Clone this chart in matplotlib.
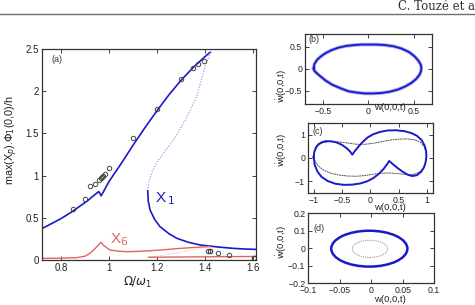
import matplotlib
matplotlib.use("Agg")
import matplotlib.pyplot as plt
from matplotlib.patches import Ellipse

plt.rcParams['font.family'] = ['Liberation Sans', 'DejaVu Sans']
plt.rcParams['mathtext.fontset'] = 'dejavusans'

# ---- panel (a) data ----
x1_up_x = [0.72, 0.76, 0.80, 0.845, 0.88, 0.91, 0.935, 0.950, 0.957, 0.962, 0.967, 0.975, 1.00, 1.05, 1.10, 1.15, 1.20, 1.25, 1.30, 1.35, 1.38, 1.40, 1.415, 1.422]
x1_up_y = [0.37, 0.43, 0.49, 0.57, 0.64, 0.70, 0.76, 0.795, 0.81, 0.79, 0.76, 0.80, 0.93, 1.14, 1.36, 1.57, 1.77, 1.96, 2.13, 2.28, 2.36, 2.41, 2.45, 2.46]
x1_uns_x = [1.422, 1.40, 1.365, 1.32, 1.268, 1.23, 1.198, 1.18, 1.164, 1.161]
x1_uns_y = [2.46, 2.30, 1.94, 1.67, 1.42, 1.28, 1.15, 1.05, 0.91, 0.83]
x1_lo_x = [1.161, 1.163, 1.171, 1.19, 1.212, 1.25, 1.282, 1.33, 1.379, 1.45, 1.517, 1.56, 1.61]
x1_lo_y = [0.82, 0.70, 0.59, 0.48, 0.395, 0.31, 0.257, 0.21, 0.178, 0.155, 0.138, 0.131, 0.126]

x6_x = [0.72, 0.80, 0.866, 0.90, 0.921, 0.940, 0.955, 0.967, 0.975, 0.984, 1.004, 1.04, 1.074, 1.12, 1.171, 1.23, 1.296, 1.36, 1.42]
x6_y = [0.02, 0.022, 0.028, 0.045, 0.08, 0.13, 0.175, 0.21, 0.18, 0.158, 0.118, 0.105, 0.099, 0.102, 0.11, 0.122, 0.138, 0.15, 0.158]
x6_uns_x = [1.42, 1.35, 1.28, 1.22, 1.164]
x6_uns_y = [0.158, 0.12, 0.085, 0.055, 0.032]
x6_lo_x = [1.164, 1.30, 1.45, 1.61]
x6_lo_y = [0.032, 0.036, 0.039, 0.042]

exp_x = [0.849, 0.900, 0.921, 0.942, 0.960, 0.965, 0.970, 0.977, 0.984, 1.001, 1.101, 1.201, 1.300, 1.351, 1.372, 1.393,
         1.413, 1.418, 1.421, 1.452, 1.501, 1.601, 1.603]
exp_y = [0.61, 0.72, 0.88, 0.90, 0.95, 0.97, 0.98, 0.99, 1.02, 1.09, 1.45, 1.785, 2.14, 2.27, 2.32, 2.36,
         0.107, 0.107, 0.104, 0.079, 0.059, 0.022, 0.026]

a_xticks = [0.8, 1.0, 1.2, 1.4, 1.6]
a_xticklabels = ['0.8', '1', '1.2', '1.4', '1.6']
a_yticks = [0, 0.5, 1, 1.5, 2, 2.5]
a_yticklabels = ['0', '0.5', '1', '1.5', '2', '2.5']

# ---- panel (b) data ----
b_x = [-0.604, -0.595, -0.567, -0.525, -0.476, -0.41, -0.33, -0.24, -0.146, -0.07, 0.0, 0.09, 0.18, 0.28, 0.367, 0.45,
       0.513, 0.555, 0.58, 0.587,
       0.580, 0.568, 0.53, 0.477, 0.41, 0.33, 0.24, 0.147, 0.05, -0.036, -0.13, -0.22, -0.31, -0.40, -0.47, -0.53,
       -0.575, -0.598, -0.604]
b_y = [0.01, 0.11, 0.20, 0.28, 0.35, 0.42, 0.48, 0.52, 0.54, 0.55, 0.55, 0.55, 0.54, 0.51, 0.46, 0.38,
       0.28, 0.18, 0.09, 0.01,
       -0.07, -0.13, -0.23, -0.32, -0.40, -0.47, -0.52, -0.55, -0.56, -0.56, -0.54, -0.51, -0.44, -0.36, -0.27, -0.17,
       -0.09, -0.04, 0.01]

# ---- panel (c) data ----
c_blue_x = [-1.0, -0.99, -0.96, -0.92, -0.86, -0.79, -0.70, -0.60, -0.50, -0.42, -0.36, -0.32, -0.28, -0.22, -0.14,
            -0.05, 0.05, 0.17, 0.30, 0.45, 0.60, 0.72, 0.82, 0.90, 0.95, 0.98, 0.985, 0.97, 0.94, 0.89, 0.82, 0.74,
            0.66, 0.57, 0.48, 0.40, 0.33, 0.29, 0.23, 0.15, 0.05, -0.06, -0.18, -0.32, -0.47, -0.62, -0.75, -0.86,
            -0.93, -0.98, -1.0]
c_blue_y = [0.04, 0.25, 0.45, 0.58, 0.67, 0.72, 0.72, 0.67, 0.56, 0.42, 0.28, 0.14, 0.28, 0.46, 0.68,
            0.88, 1.02, 1.12, 1.18, 1.19, 1.15, 1.07, 0.95, 0.77, 0.55, 0.30, 0.05, -0.20, -0.42, -0.60, -0.74, -0.78,
            -0.73, -0.60, -0.44, -0.28, -0.13, -0.28, -0.48, -0.68, -0.87, -1.01, -1.10, -1.15, -1.16, -1.11, -1.00, -0.82,
            -0.60, -0.32, 0.04]
c_gray_x = [-1.0, -0.98, -0.93, -0.85, -0.72, -0.58, -0.45, -0.32, -0.20, -0.08, 0.05, 0.20, 0.35, 0.50, 0.65, 0.78,
            0.88, 0.95, 0.985, 0.98, 0.95, 0.88, 0.78, 0.65, 0.50, 0.35, 0.20, 0.05, -0.10, -0.25, -0.40, -0.55,
            -0.70, -0.83, -0.93, -0.98, -1.0]
c_gray_y = [0.04, 0.30, 0.52, 0.65, 0.70, 0.69, 0.66, 0.61, 0.58, 0.59, 0.63, 0.70, 0.77, 0.81, 0.82, 0.78,
            0.67, 0.48, 0.20, -0.10, -0.38, -0.58, -0.70, -0.72, -0.68, -0.65, -0.66, -0.70, -0.76, -0.79, -0.78, -0.74,
            -0.66, -0.52, -0.32, -0.12, 0.04]

# ---- panel (d) data ----
d_blue_center = (-0.003, -0.002)
d_blue_size = (0.121, 0.205)
d_gray_center = (-0.002, -0.003)
d_gray_size = (0.056, 0.098)

blue = '#1a1ac8'
red = '#e06464'

fig = plt.figure(figsize=(4.75, 3.05), dpi=100)

# header
fig.add_artist(plt.Line2D([0, 1], [1 - 13.5 / 305, 1 - 13.5 / 305], color='#707070', lw=1.0))
fig.text(398 / 475, 1 - 6 / 305, 'C. Touzé et al.', family='DejaVu Serif', fontsize=8.5,
         ha='left', va='center', color='#333333')

def style(ax, fs):
    ax.tick_params(direction='in', top=True, right=True, labelsize=fs, length=3, width=0.6, pad=2, colors='#222222')
    for s in ax.spines.values():
        s.set_linewidth(0.9)
        s.set_color('#333333')

# panel (a)
ax = fig.add_axes([0.0878, 0.1475, 0.4505, 0.692])
ax.plot(x1_up_x, x1_up_y, color=blue, lw=1.2)
ax.plot(x1_uns_x, x1_uns_y, color='#8a8ae0', lw=0.8, ls=(0, (1, 1.5)))
ax.plot(x1_lo_x, x1_lo_y, color=blue, lw=1.2)
ax.plot(x6_x, x6_y, color=red, lw=1.0)
ax.plot(x6_uns_x, x6_uns_y, color='#f0b0b0', lw=0.8, ls=(0, (1, 1.5)))
ax.plot(x6_lo_x, x6_lo_y, color=red, lw=1.0)
ax.plot(exp_x, exp_y, ls='none', marker='o', ms=3.2, mfc='none', mec='#444444', mew=0.7)
ax.set_xlim(0.72, 1.61)
ax.set_ylim(0, 2.5)
ax.set_xticks(a_xticks)
ax.set_xticklabels(a_xticklabels)
ax.set_yticks(a_yticks)
ax.set_yticklabels(a_yticklabels)
style(ax, 7)
ax.text(0.762, 2.37, '(a)', fontsize=6.5, ha='left', va='center', color='#333333')
ax.text(1.19, 0.73, r'X$_{\,1}$', fontsize=11, color=blue, ha='left', va='center')
ax.text(1.005, 0.24, r'X$_6$', fontsize=11, color=red, ha='left', va='center')
ax.set_xlabel(r'$\Omega/\omega_1$', fontsize=8.5, labelpad=2, color='#222222')
ax.xaxis.set_label_coords(0.45, -0.07)
ax.set_ylabel(r'max(X$_p$).$\Phi_1$(0,0)/h', fontsize=7.8, color='#222222')
ax.yaxis.set_label_coords(-0.1, 0.57)

# panel (b)
axb = fig.add_axes([0.642, 0.659, 0.2667, 0.231])
axb.plot(b_x, b_y, color='#a8a8f0', lw=2.6)
axb.plot(b_x, b_y, color=blue, lw=1.3)
axb.set_xlim(-0.7, 0.7)
axb.set_ylim(-0.8, 0.8)
axb.set_xticks([-0.5, 0, 0.5])
axb.set_xticklabels(['\u22120.5', '0', '0.5'])
axb.set_yticks([-0.5, 0, 0.5])
axb.set_yticklabels(['\u22120.5', '0', '0.5'])
style(axb, 6.3)
axb.text(0.03, 0.92, '(b)', transform=axb.transAxes, fontsize=6.5, ha='left', va='center', color='#333333')

# panel (c)
axc = fig.add_axes([0.6484, 0.368, 0.263, 0.2285])
axc.plot(c_gray_x, c_gray_y, color='#555555', lw=0.7, ls=(0, (2, 0.6)))
axc.plot(c_blue_x, c_blue_y, color=blue, lw=1.4)
axc.set_xlim(-1.1, 1.1)
axc.set_ylim(-1.5, 1.5)
axc.set_xticks([-1, -0.5, 0, 0.5, 1])
axc.set_xticklabels(['\u22121', '\u22120.5', '0', '0.5', '1'])
axc.set_yticks([-1, 0, 1])
axc.set_yticklabels(['\u22121', '0', '1'])
style(axc, 6.3)
axc.text(0.04, 0.88, '(c)', transform=axc.transAxes, fontsize=6.5, ha='left', va='center', color='#333333')

# panel (d)
axd = fig.add_axes([0.649, 0.0711, 0.265, 0.2295])
axd.add_patch(Ellipse(d_blue_center, d_blue_size[0], d_blue_size[1], fill=False, ec=blue, lw=1.8))
axd.add_patch(Ellipse(d_gray_center, d_gray_size[0], d_gray_size[1], fill=False, ec='#888888', lw=0.7, ls=(0, (1, 1))))
axd.set_xlim(-0.1, 0.1)
axd.set_ylim(-0.2, 0.2)
axd.set_xticks([-0.1, -0.05, 0, 0.05, 0.1])
axd.set_xticklabels(['\u22120.1', '\u22120.05', '0', '0.05', '0.1'])
axd.set_yticks([-0.2, -0.1, 0, 0.1, 0.2])
axd.set_yticklabels(['\u22120.2', '\u22120.1', '0', '0.1', '0.2'])
style(axd, 6.3)
axd.text(0.04, 0.78, '(d)', transform=axd.transAxes, fontsize=6.5, ha='left', va='center', color='#333333')

# axis labels of right panels
for lx, ly, yl in [(390, 108, 86), (390, 208, 150), (390, 300, 242)]:
    fig.text(lx / 475, 1 - ly / 305, 'w(0,0,t)', fontsize=6.8, ha='center', va='center', color='#222222')
    fig.text(282 / 475, 1 - yl / 305, r'$\dot{\rm w}$(0,0,t)', fontsize=6.8, ha='center', va='center',
             rotation=90, color='#222222')

fig.savefig('out.png', dpi=100)
